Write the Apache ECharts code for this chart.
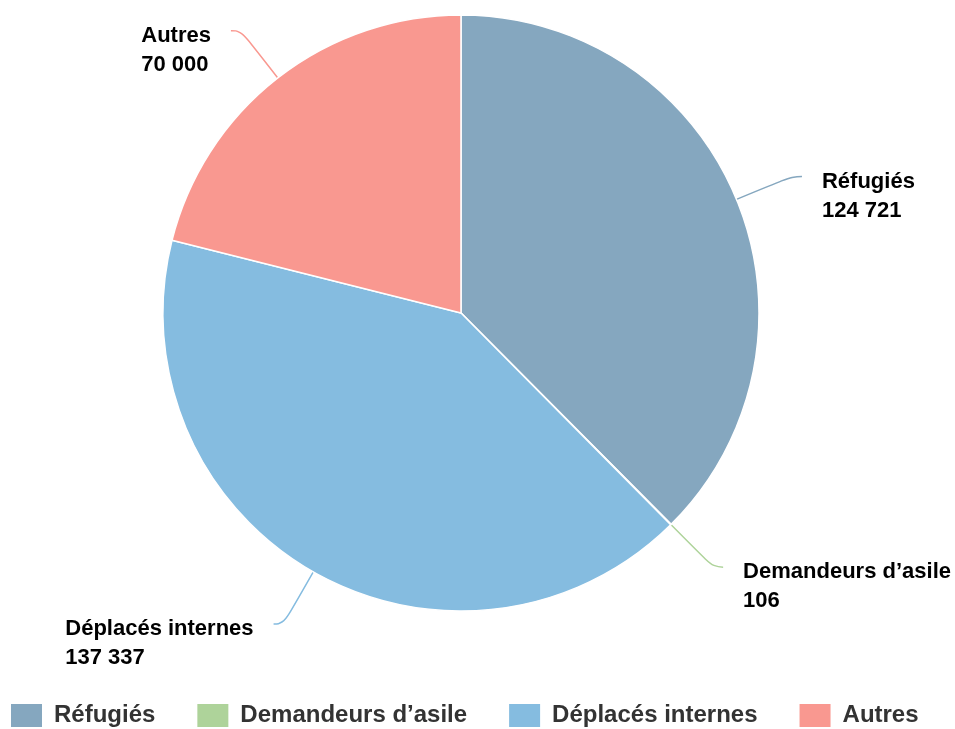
<!DOCTYPE html>
<html>
<head>
<meta charset="utf-8">
<script src="https://cdn.jsdelivr.net/npm/echarts@6/dist/echarts.min.js"></script>
<style>
html,body{margin:0;padding:0;background:#fff;}
#chart{width:955px;height:729px;}
</style>
</head>
<body>
<div id="chart"></div>
<script>
const categories = ['Réfugiés', 'Demandeurs d’asile', 'Déplacés internes', 'Autres'];
const values = [124721, 106, 137337, 70000];
const colors = ['#85a7bf', '#aed39a', '#85bce0', '#f99890'];

function fmt(v) {
  return String(v).replace(/\B(?=(\d{3})+(?!\d))/g, ' ');
}

const chart = echarts.init(document.getElementById('chart'));
chart.setOption({
  animation: false,
  color: colors,
  legend: {
    left: 4,
    top: 697,
    itemWidth: 33,
    itemHeight: 25,
    itemGap: 40,
    icon: 'rect',
    data: categories,
    textStyle: {
      fontSize: 24,
      fontWeight: 'bold',
      color: '#333',
      fontFamily: 'Liberation Sans',
      padding: [0, 0, 0, 6]
    }
  },
  series: [{
    type: 'pie',
    center: [461, 313],
    radius: 298,
    startAngle: 90,
    clockwise: true,
    avoidLabelOverlap: false,
    itemStyle: { borderColor: '#fff', borderWidth: 1.5 },
    label: {
      show: true,
      position: 'outside',
      formatter: p => '{e| }\n{n|' + p.name + '}\n{n|' + fmt(p.value) + '}',
      fontSize: 22,
      fontWeight: 'bold',
      color: '#000',
      fontFamily: 'Liberation Sans',
      distanceToLabelLine: 20,
      rich: {
        e: { fontSize: 1, lineHeight: 39, align: 'left' },
        n: { fontSize: 22, fontWeight: 'bold', color: '#000', fontFamily: 'Liberation Sans', lineHeight: 29, align: 'left' }
      }
    },
    labelLine: {
      show: true,
      length: 60,
      length2: 10,
      smooth: 0.5,
      lineStyle: { width: 1.5 }
    },
    emphasis: { disabled: true },
    data: categories.map((c, i) => ({ name: c, value: values[i] }))
  }]
});
</script>
</body>
</html>
